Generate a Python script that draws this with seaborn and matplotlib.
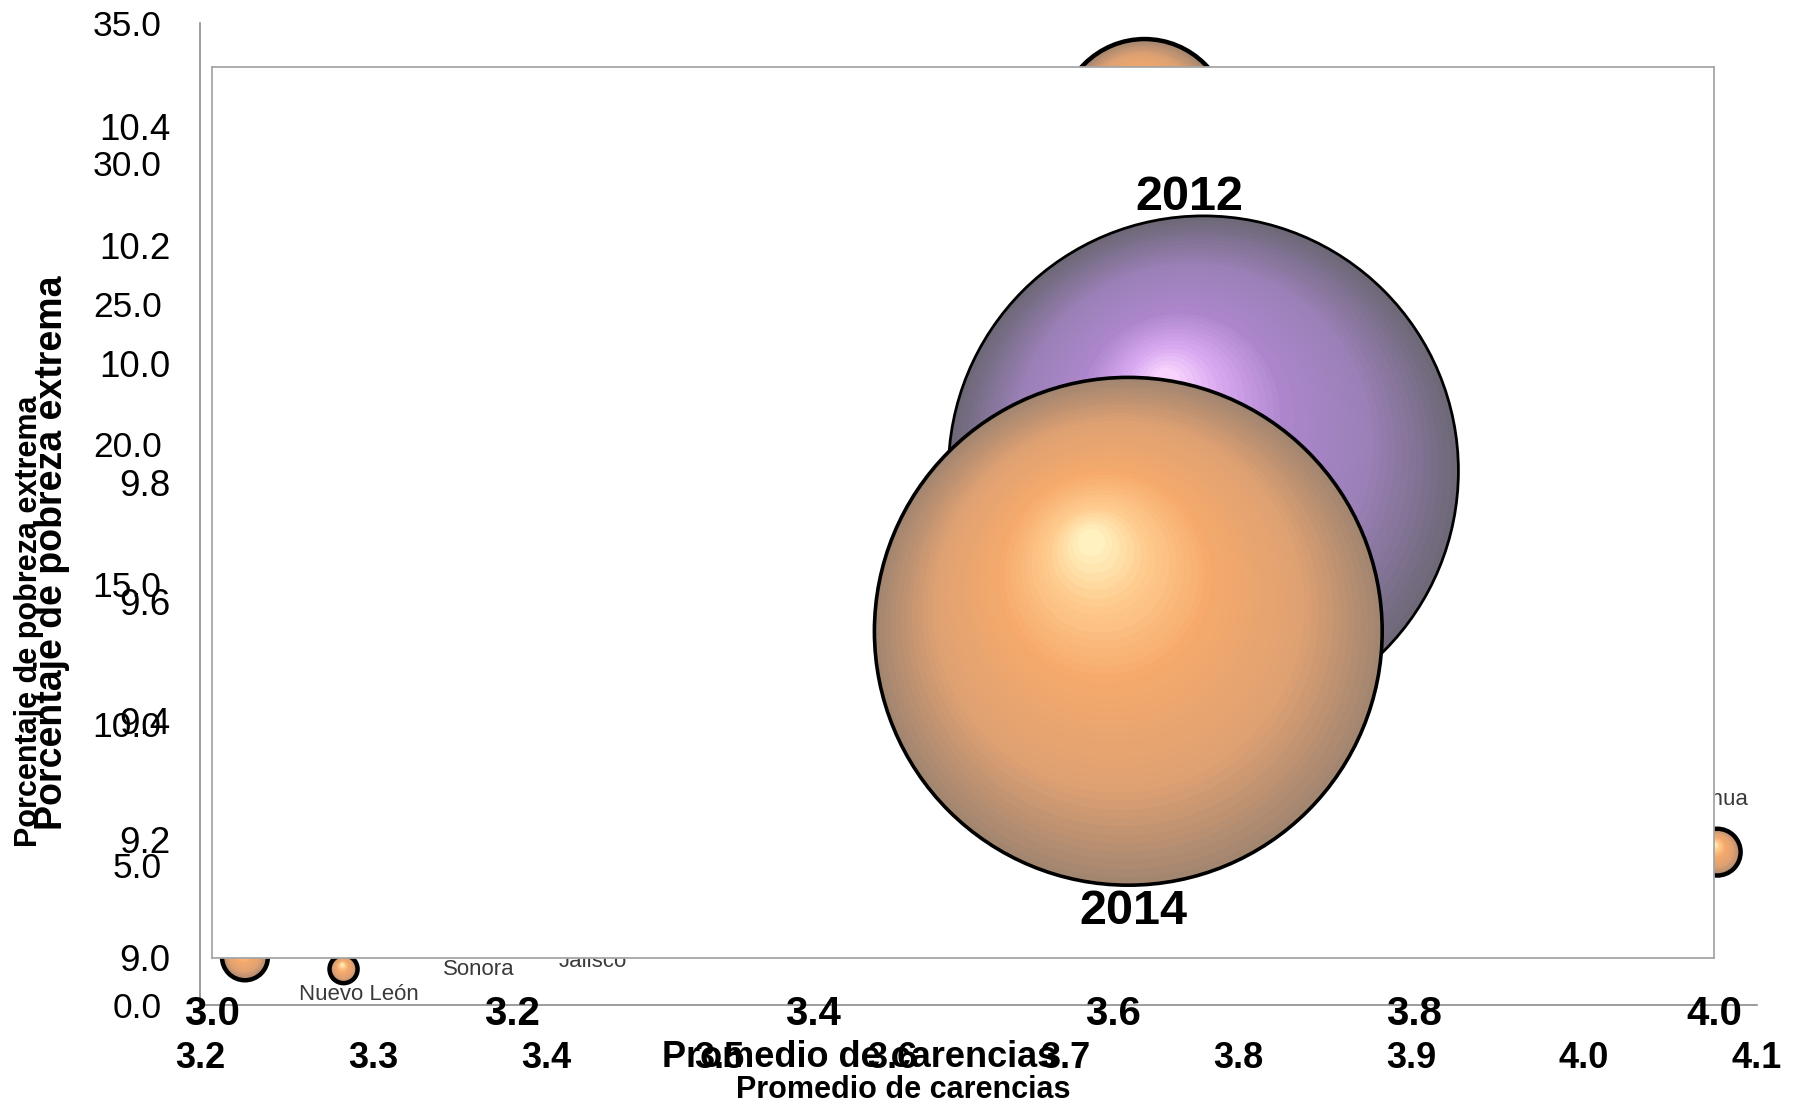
import matplotlib
matplotlib.use("Agg")
import numpy as np
import matplotlib.pyplot as plt
import matplotlib.transforms as mtransforms
from matplotlib.colors import to_rgb
import seaborn as sns

sns.set_theme(style="white")
plt.rcParams['font.family'] = ['Liberation Sans', 'DejaVu Sans']
plt.rcParams['text.color'] = 'black'
plt.rcParams['axes.labelcolor'] = 'black'

# back chart: entidades 2014
edo_nombre = ["Chiapas", "Coahuila", "Nuevo León", "Sonora", "Jalisco", "Chihuahua"]
edo_carencias = [3.746, 3.226, 3.283, 3.361, 3.427, 4.077]
edo_pobreza = [31.4, 1.7, 1.28, 3.3, 3.2, 5.45]
edo_personas = [1650, 120, 45, 50, 90, 125]   # miles

# front chart: nacional
anio = ["2012", "2014"]
nac_carencias = [3.66, 3.61]
nac_pobreza = [9.82, 9.55]
nac_personas = [11.5, 11.4]   # millones

back_xticks = [3.2, 3.3, 3.4, 3.5, 3.6, 3.7, 3.8, 3.9, 4.0, 4.1]
back_yticks = [0, 5, 10, 15, 20, 25, 30, 35]
front_xticks = [3.0, 3.2, 3.4, 3.6, 3.8, 4.0]
front_yticks = [9.0, 9.2, 9.4, 9.6, 9.8, 10.0, 10.2, 10.4]

# colour stops from rim (0) to highlight (1)
ORANGE = [(0.0, '#A38670'), (0.28, '#DFA172'), (0.6, '#F6AA6C'),
          (0.82, '#FFCB8E'), (1.0, '#FFF8C8')]
PURPLE = [(0.0, '#6E6878'), (0.3, '#9A80B6'), (0.6, '#AC86CC'), (0.82, '#D8A8F0'),
          (1.0, '#FCDAFF')]


def ramp(stops, t):
    ts = [s[0] for s in stops]
    cs = np.array([to_rgb(s[1]) for s in stops])
    return tuple(np.interp(t, ts, cs[:, k]) for k in range(3))


def sphere(ax, fig, x, y, s, stops, lw):
    r = np.sqrt(s) / 2
    sns.scatterplot(x=[x], y=[y], s=s, color=ramp(stops, 0), linewidth=0, ax=ax)
    n = 40
    for i in range(1, n):
        t = i / n
        tr = mtransforms.offset_copy(ax.transData, fig=fig, x=-0.15 * r * t,
                                     y=0.36 * r * t, units='points')
        ax.scatter([x], [y], s=(2 * r * (1 - 0.97 * t)) ** 2, color=ramp(stops, t),
                   linewidths=0, transform=tr)
    ax.scatter([x], [y], s=s, facecolors='none', edgecolors='black', linewidths=lw)


fig = plt.figure(figsize=(18.03, 11.07), dpi=100)
ax_b = fig.add_axes([0.1109, 0.0921, 0.8636, 0.8871])
ax_f = fig.add_axes([0.1176, 0.1346, 0.8331, 0.8049])

# ---- back chart
kb = 9.08
for xx, yy, pp in zip(edo_carencias, edo_pobreza, edo_personas):
    sphere(ax_b, fig, xx, yy, pp * kb, ORANGE, 3.2)

offs = {"Nuevo León": (11, -18), "Sonora": (0, -41), "Jalisco": (0, -33), "Chihuahua": (-16, 38)}
for nm, xx, yy in zip(edo_nombre, edo_carencias, edo_pobreza):
    if nm in offs:
        ax_b.annotate(nm, (xx, yy), xytext=offs[nm], textcoords='offset points',
                      ha='center', va='center', fontsize=16, color='#3A3A3A')

ax_b.set_xlim(3.2, 4.1)
ax_b.set_ylim(0, 35)
ax_b.set_xticks(back_xticks)
ax_b.set_xticklabels([f"{v:.1f}" for v in back_xticks], fontsize=26, fontweight='bold')
ax_b.set_yticks(back_yticks)
ax_b.set_yticklabels([f"{v:.1f}" for v in back_yticks], fontsize=25.5)
ax_b.tick_params(axis='both', direction='out', length=8.6, width=1.2, colors='#888888',
                 labelcolor='black')
ax_b.tick_params(axis='y', pad=19)
ax_b.tick_params(axis='x', pad=17)
for sp in ['top', 'right']:
    ax_b.spines[sp].set_visible(False)
for sp in ['left', 'bottom']:
    ax_b.spines[sp].set_color('#8C8C8C')
    ax_b.spines[sp].set_linewidth(1.2)
ax_b.set_xlabel("Promedio de carencias", fontsize=22, fontweight='bold', va='center')
ax_b.xaxis.set_label_coords(0.4515, -0.0866)
ax_b.set_ylabel("Porcentaje de pobreza extrema", fontsize=22, fontweight='bold', va='center')
ax_b.yaxis.set_label_coords(-0.1098, 0.391)

# ---- front chart
ax_f.set_facecolor('white')
kf = 11725
sphere(ax_f, fig, nac_carencias[0], nac_pobreza[0], nac_personas[0] * kf, PURPLE, 2)
sphere(ax_f, fig, nac_carencias[1], nac_pobreza[1], nac_personas[1] * kf, ORANGE, 2.6)
lab_off = [(-10, 197), (4, -202)]
for a, xx, yy, o in zip(anio, nac_carencias, nac_pobreza, lab_off):
    ax_f.annotate(a, (xx, yy), xytext=o, textcoords='offset points', ha='center',
                  va='center', fontsize=35, fontweight='bold', color='black')

ax_f.set_xlim(3.0, 4.0)
ax_f.set_ylim(9.0, 10.5)
ax_f.set_xticks(front_xticks)
ax_f.set_xticklabels([f"{v:.1f}" for v in front_xticks], fontsize=29, fontweight='bold')
ax_f.set_yticks(front_yticks)
ax_f.set_yticklabels([f"{v:.1f}" for v in front_yticks], fontsize=26.5)
ax_f.tick_params(axis='both', direction='out', width=1.2, colors='#888888', labelcolor='black')
ax_f.tick_params(axis='y', length=10, pad=20)
ax_f.tick_params(axis='x', length=11, pad=16)
for sp in ax_f.spines.values():
    sp.set_color('#A6A6A6')
    sp.set_linewidth(1.3)
ax_f.set_xlabel("Promedio de carencias", fontsize=26, fontweight='bold', va='center')
ax_f.xaxis.set_label_coords(0.431, -0.112)
ax_f.set_ylabel("Porcentaje de pobreza extrema", fontsize=27, fontweight='bold', va='center')
ax_f.yaxis.set_label_coords(-0.1065, 0.4545)

fig.savefig("out.png", dpi=100)
